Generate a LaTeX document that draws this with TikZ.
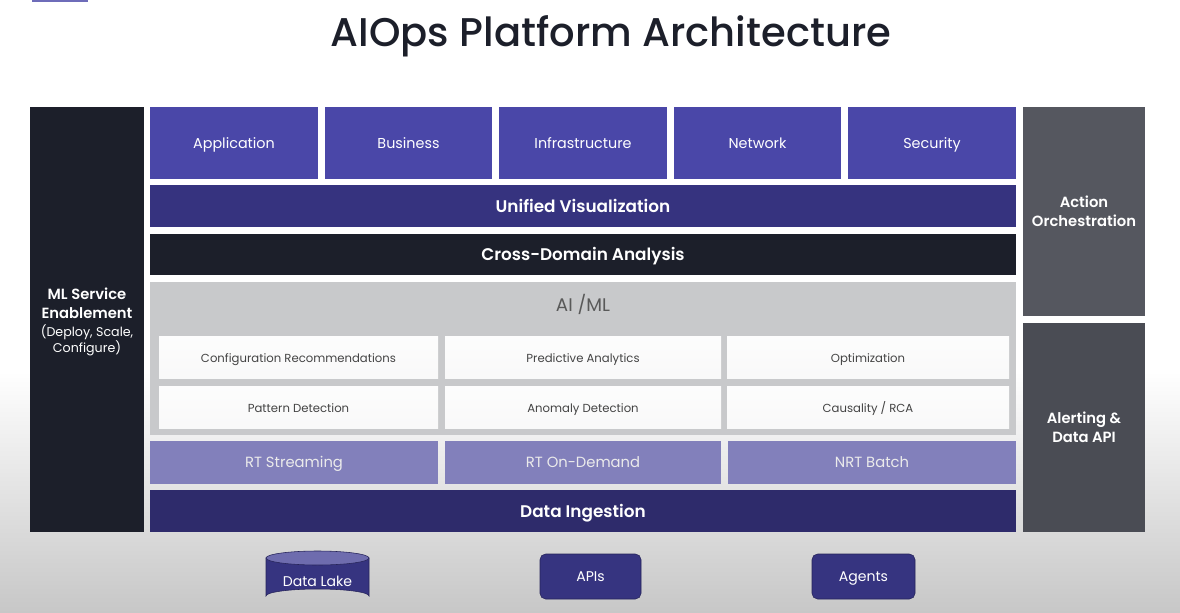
\documentclass[tikz,border=0pt]{standalone}
\usepackage{fontspec}
\setmainfont{Poppins}[BoldFont={Poppins SemiBold}]
\newfontfamily\titlefont{Poppins Medium}
\definecolor{cDark}{HTML}{1C1F2A}
\definecolor{cDom}{HTML}{4A47A8}
\definecolor{cVis}{HTML}{36337F}
\definecolor{cGray}{HTML}{C8C9CB}
\definecolor{cProc}{HTML}{8280BB}
\definecolor{cIng}{HTML}{2E2B6B}
\definecolor{cAct}{HTML}{55575F}
\definecolor{cAlert}{HTML}{4A4C54}
\definecolor{cBot}{HTML}{363480}
\definecolor{cBotTop}{HTML}{6E6CAE}
\definecolor{cTxt}{HTML}{444444}
\newcommand{\bx}[7]{\node[#6, minimum width={(#4-#2)*0.025cm}, minimum height={(#5-#3)*0.025cm}] (#1) at ({(#2+#4)/2},{(#3+#5)/2}) {#7};}
\tikzset{
  base/.style={rectangle, inner sep=0pt, outer sep=0pt, align=center},
  one/.style={text height=0.72em, text depth=0pt},
  dombox/.style={base, one, fill=cDom, text=white, font=\fontsize{10.2}{12}\selectfont},
  bandbox/.style={base, text height=8.7pt, text depth=0pt, text=white, font=\fontsize{12}{14}\selectfont\bfseries},
  mlbox/.style={base, one, top color=white!96!cGray, bottom color=white!88!cGray, text=cTxt, font=\fontsize{8.3}{10}\selectfont},
  procbox/.style={base, one, fill=cProc, text=white!92!black, font=\fontsize{10.5}{12}\selectfont},
  sidebox/.style={base, text=white, font=\fontsize{10.5}{13.5}\selectfont\bfseries},
  srcbox/.style={base, one, rounded corners=4pt, fill=cBot, draw=cBot!70!black, text=white, font=\fontsize{10}{12}\selectfont},
}
\begin{document}
\begin{tikzpicture}[x=0.025cm, y=-0.025cm]
\useasboundingbox (0,0) rectangle (1180,613);
\fill[white] (0,0) rectangle (1180,372);
\shade[top color=white, bottom color=black!22] (0,371) rectangle (1180,613);
\fill[cDom!80!white] (32,0) rectangle (88,2);
\node[font=\fontsize{28.5}{34}\selectfont\titlefont, text=cDark, anchor=base, inner sep=0pt] (title) at (611,46) {AIOps Platform Architecture};
% left column
\bx{ml}{30}{107}{144}{532}{sidebox, fill=cDark}{}
\node[sidebox] (mllbl) at (87,322) {ML Service\\Enablement\\[-0.5pt]{\fontsize{9}{11.5}\selectfont\mdseries (Deploy, Scale,}\\[-2.5pt]{\fontsize{9}{11.5}\selectfont\mdseries Configure)}};
% domains
\bx{app}{150}{107}{318}{179}{dombox}{Application}
\bx{bus}{325}{107}{492}{179}{dombox}{Business}
\bx{infra}{499}{107}{667}{179}{dombox}{Infrastructure}
\bx{net}{674}{107}{841}{179}{dombox}{Network}
\bx{sec}{848}{107}{1016}{179}{dombox}{Security}
% bands
\bx{vis}{150}{185}{1016}{227}{bandbox, fill=cVis}{Unified Visualization}
\bx{cross}{150}{234}{1016}{275}{bandbox, fill=cDark}{Cross-Domain Analysis}
\bx{aiml}{150}{282}{1016}{435}{base, fill=cGray}{}
\node[font=\fontsize{13}{15}\selectfont, text=black!65, text height=9.4pt, text depth=0pt] (aimllbl) at (583,305) {AI /ML};
\bx{conf}{159}{336}{438}{378}{mlbox}{Configuration Recommendations}
\bx{pred}{445}{336}{721}{378}{mlbox}{Predictive Analytics}
\bx{opt}{727}{336}{1009}{378}{mlbox}{Optimization}
\bx{pat}{159}{386}{438}{428}{mlbox}{Pattern Detection}
\bx{anom}{445}{386}{721}{428}{mlbox}{Anomaly Detection}
\bx{caus}{727}{386}{1009}{428}{mlbox}{Causality / RCA}
\bx{rts}{150}{441}{438}{484}{procbox}{RT Streaming}
\bx{rtod}{445}{441}{721}{484}{procbox}{RT On-Demand}
\bx{nrt}{728}{441}{1016}{484}{procbox}{NRT Batch}
\bx{ing}{150}{490}{1016}{532}{bandbox, fill=cIng}{Data Ingestion}
% right column
\bx{act}{1023}{107}{1145}{316}{sidebox, fill=cAct}{Action\\Orchestration}
\bx{alert}{1023}{323}{1145}{532}{sidebox, fill=cAlert}{Alerting \&\\Data API}
% sources
\bx{lake}{266}{551}{369}{603}{base}{}
\fill[cBot, draw=cBot!70!black] (lake.west |- 0,558) -- (lake.west |- 0,596) arc[start angle=180, end angle=360, x radius=51.5, y radius=7] -- (lake.east |- 0,558) -- cycle;
\fill[cBotTop, draw=cBot!70!black] (317.5,558) ellipse [x radius=51.5, y radius=7];
\node[text=white, font=\fontsize{10}{12}\selectfont, one] (lakelbl) at (317.5,581) {Data Lake};
\bx{apis}{540}{554}{641}{599}{srcbox}{APIs}
\bx{agents}{812}{554}{915}{599}{srcbox}{Agents}
\end{tikzpicture}
\end{document}
